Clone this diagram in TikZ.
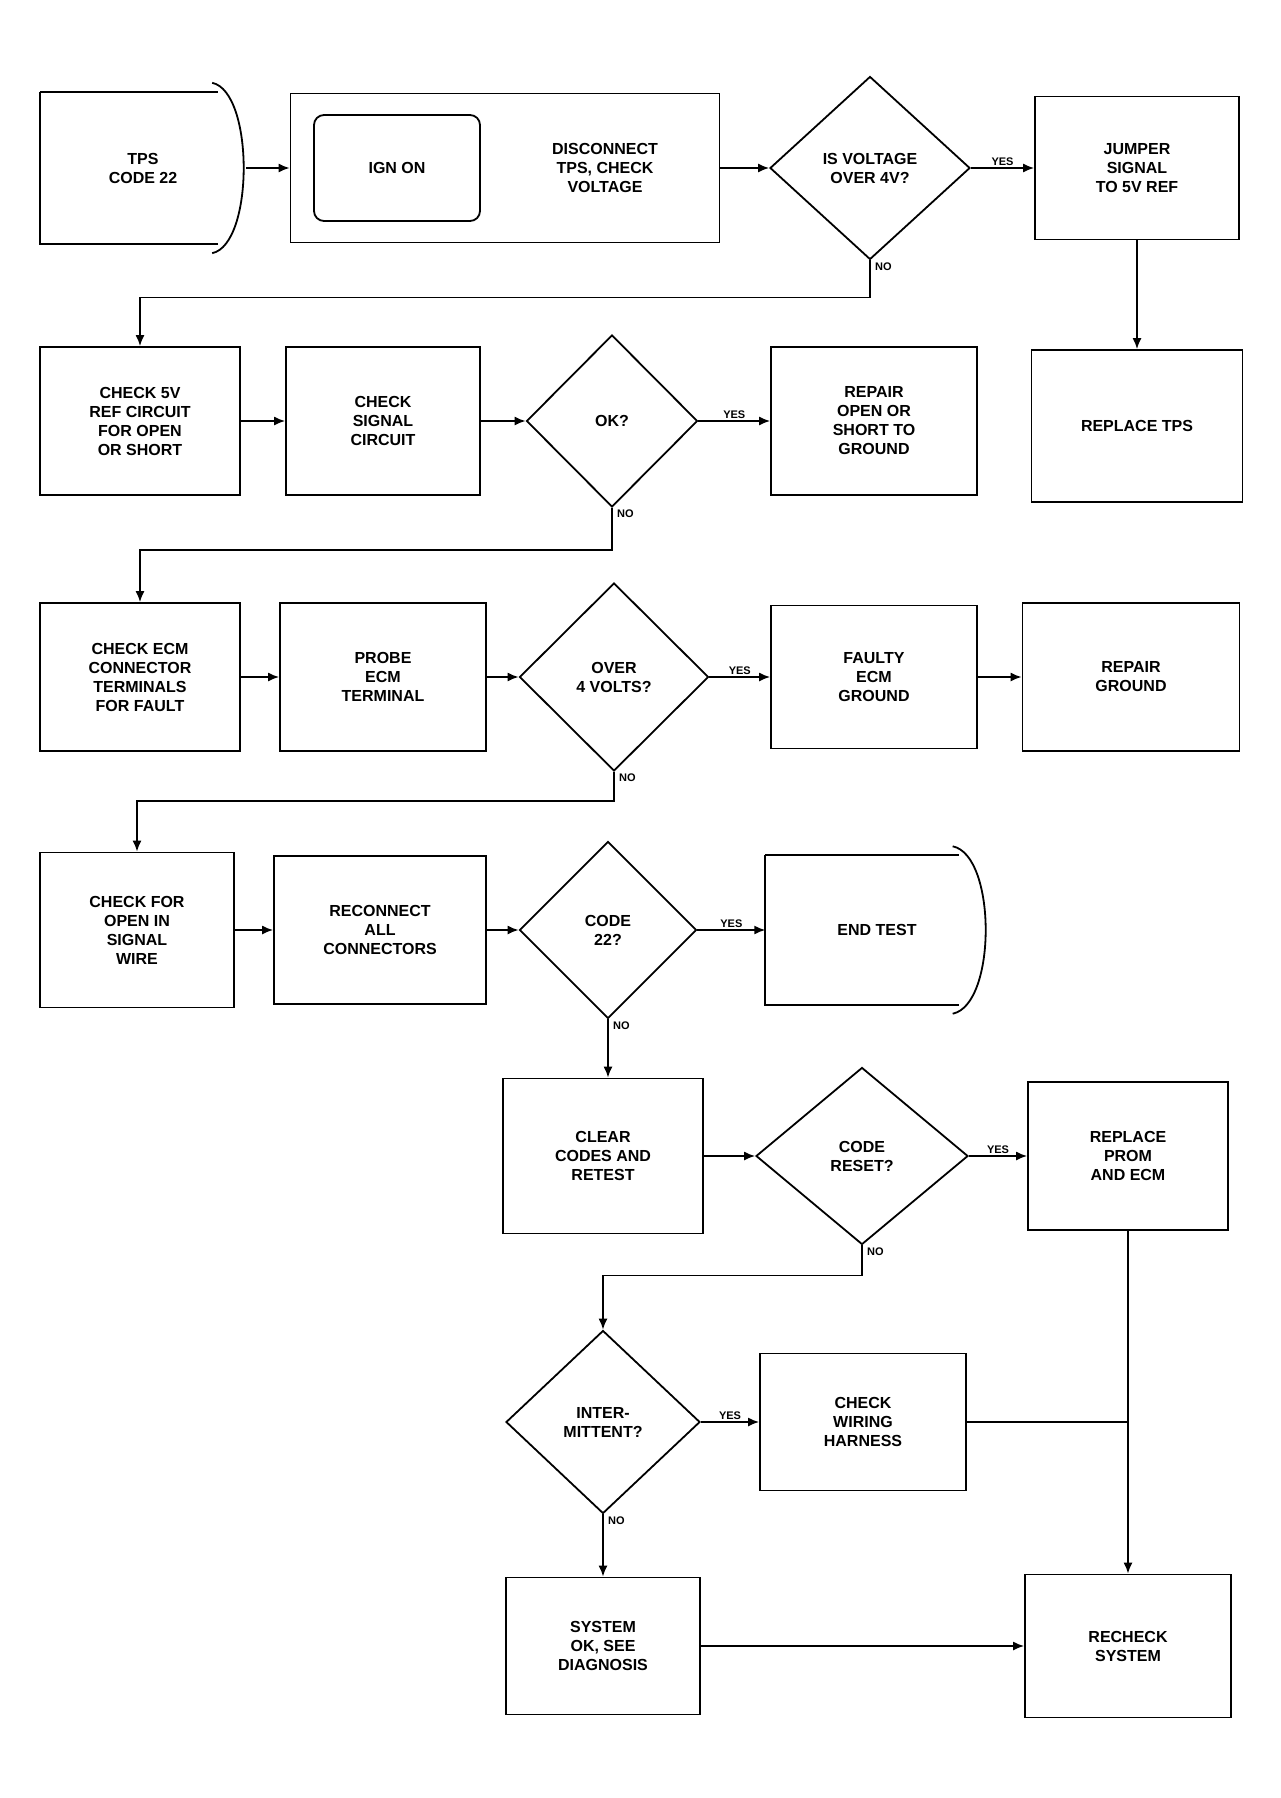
\documentclass[tikz,border=0pt]{standalone}
\usepackage{fontspec}
\setmainfont{Liberation Sans}
\usetikzlibrary{shapes.geometric,arrows.meta,calc}
\begin{document}
\begin{tikzpicture}[x=1pt,y=-1pt,
  txt/.style={font=\fontsize{16}{19}\selectfont\bfseries, align=center},
  boxnode/.style={txt, draw, line width=1.8pt, rectangle, minimum width=204pt, minimum height=148pt, inner sep=4pt},
  decnode/.style={txt, draw, line width=1.8pt, diamond, inner sep=0pt, minimum width=192pt, minimum height=180pt},
  termnode/.style={txt, rectangle, minimum width=206pt, minimum height=152pt},
  shapeline/.style={line width=1.8pt},
  arr/.style={draw, line width=1.6pt, -{Latex[length=11pt,width=9pt]}},
  conn/.style={draw, line width=1.6pt},
  lbl/.style={font=\fontsize{11}{12}\selectfont\bfseries, inner sep=2pt}]
\useasboundingbox (0,0) rectangle (1280,1798);
\fill[white] (0,0) rectangle (1280,1798);

% ---------- row 1 (y = 168)
\node[termnode] (A) at (143,168) {TPS\\ CODE 22};
\draw[shapeline] (A.north west) -- ([xshift=-28pt]A.north east);
\draw[shapeline] ([xshift=-28pt]A.south east) -- (A.south west) -- (A.north west);
\draw[shapeline] ([xshift=-34pt,yshift=9pt]A.north east) .. controls ([xshift=8pt]A.north east) and ([xshift=8pt]A.south east) .. ([xshift=-34pt,yshift=-9pt]A.south east);

\node[draw, line width=1.8pt, rectangle, minimum width=429pt, minimum height=149pt] (BC) at (505,168) {};
\node[txt, draw, line width=1.8pt, rounded corners=10pt, minimum width=166pt, minimum height=106pt] (B) at (397,168) {IGN ON};
\node[txt] (C) at (605,168) {DISCONNECT\\ TPS, CHECK\\ VOLTAGE};

\node[decnode, minimum width=200pt, minimum height=183pt] (D) at (870,168) {IS VOLTAGE\\ OVER 4V?};
\node[boxnode, minimum height=143pt] (E) at (1137,168) {JUMPER\\ SIGNAL\\ TO 5V REF};
\node[boxnode, minimum width=211pt, minimum height=152pt] (F) at (1137,426) {REPLACE TPS};

% ---------- row 2 (y = 421)
\node[boxnode, minimum width=200pt] (G) at (140,421) {CHECK 5V\\ REF CIRCUIT\\ FOR OPEN\\ OR SHORT};
\node[boxnode, minimum width=194pt] (H) at (383,421) {CHECK\\ SIGNAL\\ CIRCUIT};
\node[decnode, minimum width=171pt, minimum height=172pt] (I) at (612,421) {OK?};
\node[boxnode, minimum width=206pt] (J) at (874,421) {REPAIR\\ OPEN OR\\ SHORT TO\\ GROUND};

% ---------- row 3 (y = 677)
\node[boxnode, minimum width=200pt] (K) at (140,677) {CHECK ECM\\ CONNECTOR\\ TERMINALS\\ FOR FAULT};
\node[boxnode, minimum width=206pt] (L) at (383,677) {PROBE\\ ECM\\ TERMINAL};
\node[decnode, minimum width=189pt, minimum height=188pt] (M) at (614,677) {OVER\\ 4 VOLTS?};
\node[boxnode, minimum width=206pt, minimum height=143pt] (N) at (874,677) {FAULTY\\ ECM\\ GROUND};
\node[boxnode, minimum width=217pt] (O) at (1131,677) {REPAIR\\ GROUND};

% ---------- row 4 (y = 930)
\node[boxnode, minimum width=194pt, minimum height=155pt] (P) at (137,930) {CHECK FOR\\ OPEN IN\\ SIGNAL\\ WIRE};
\node[boxnode, minimum width=212pt] (Q) at (380,930) {RECONNECT\\ ALL\\ CONNECTORS};
\node[decnode, minimum width=177pt, minimum height=177pt] (R) at (608,930) {CODE\\ 22?};
\node[termnode, minimum width=223pt, minimum height=149pt] (S) at (877,930) {END TEST};
\draw[shapeline] (S.north west) -- ([xshift=-30pt]S.north east);
\draw[shapeline] ([xshift=-30pt]S.south east) -- (S.south west) -- (S.north west);
\draw[shapeline] ([xshift=-36pt,yshift=9pt]S.north east) .. controls ([xshift=8pt]S.north east) and ([xshift=8pt]S.south east) .. ([xshift=-36pt,yshift=-9pt]S.south east);

% ---------- row 5 (y = 1156)
\node[boxnode, minimum width=200pt, minimum height=155pt] (T) at (603,1156) {CLEAR\\ CODES AND\\ RETEST};
\node[decnode, minimum width=212pt, minimum height=177pt] (U) at (862,1156) {CODE\\ RESET?};
\node[boxnode, minimum width=200pt] (V) at (1128,1156) {REPLACE\\ PROM\\ AND ECM};

% ---------- row 6 (y = 1422)
\node[decnode, minimum width=194pt, minimum height=183pt] (W) at (603,1422) {INTER-\\ MITTENT?};
\node[boxnode, minimum width=206pt, minimum height=137pt] (X) at (863,1422) {CHECK\\ WIRING\\ HARNESS};

% ---------- row 7 (y = 1646)
\node[boxnode, minimum width=194pt, minimum height=137pt] (Y) at (603,1646) {SYSTEM\\ OK, SEE\\ DIAGNOSIS};
\node[boxnode, minimum width=206pt, minimum height=143pt] (Z) at (1128,1646) {RECHECK\\ SYSTEM};

% ---------- connectors
\draw[arr] (A.east) -- (BC.west);
\draw[arr] (BC.east) -- (D.west);
\draw[arr] (D.east) -- node[lbl, above] {YES} (E.west);
\draw[arr] (E.south) -- (F.north);
\draw[arr] (D.south) -- ++(0,37) -| (G.north);
\node[lbl, anchor=north west] at ([xshift=3pt]D.south) {NO};

\draw[arr] (G.east) -- (H.west);
\draw[arr] (H.east) -- (I.west);
\draw[arr] (I.east) -- node[lbl, above] {YES} (J.west);
\draw[arr] (I.south) -- ++(0,42) -| (K.north);
\node[lbl, anchor=north west] at ([xshift=3pt]I.south) {NO};

\draw[arr] (K.east) -- (L.west);
\draw[arr] (L.east) -- (M.west);
\draw[arr] (M.east) -- node[lbl, above] {YES} (N.west);
\draw[arr] (N.east) -- (O.west);
\draw[arr] (M.south) -- ++(0,29) -| (P.north);
\node[lbl, anchor=north west] at ([xshift=3pt]M.south) {NO};

\draw[arr] (P.east) -- (Q.west);
\draw[arr] (Q.east) -- (R.west);
\draw[arr] (R.east) -- node[lbl, above] {YES} (S.west);
\draw[arr] (R.south) -- (R.south |- T.north);
\node[lbl, anchor=north west] at ([xshift=3pt]R.south) {NO};

\draw[arr] (T.east) -- (U.west);
\draw[arr] (U.east) -- node[lbl, above] {YES} (V.west);
\draw[arr] (U.south) -- ++(0,30) -| (W.north);
\node[lbl, anchor=north west] at ([xshift=3pt]U.south) {NO};

\draw[arr] (W.east) -- node[lbl, above] {YES} (X.west);
\coordinate (j) at (V.south |- X.east);
\draw[conn] (X.east) -- (j);
\draw[arr] (V.south) -- (V.south |- Z.north);
\draw[arr] (W.south) -- (W.south |- Y.north);
\node[lbl, anchor=north west] at ([xshift=3pt]W.south) {NO};
\draw[arr] (Y.east) -- (Z.west);
\end{tikzpicture}
\end{document}
